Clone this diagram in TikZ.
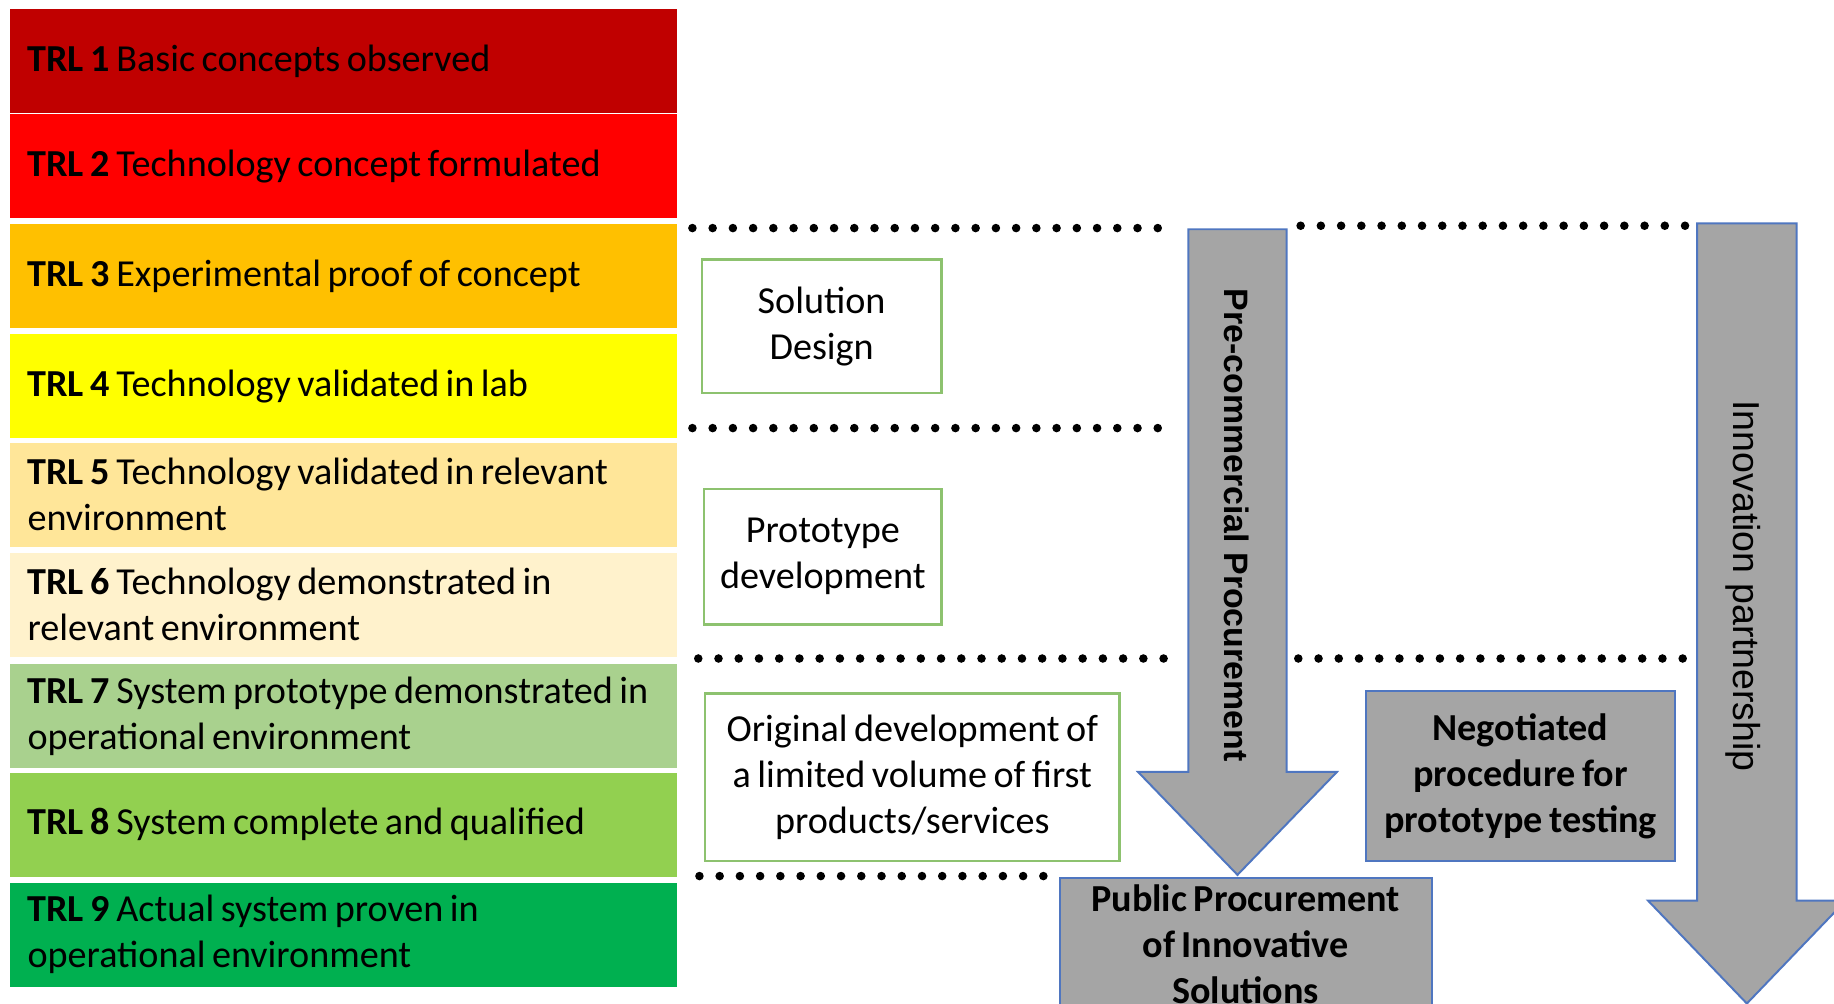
\documentclass[tikz,border=0pt]{standalone}
\usepackage{fontspec}
\setmainfont{Carlito}[WordSpace=0.75]
\newfontfamily\arrowfont{Liberation Sans}

\definecolor{trlone}{HTML}{C00000}
\definecolor{trltwo}{HTML}{FF0000}
\definecolor{trlthree}{HTML}{FFC000}
\definecolor{trlfour}{HTML}{FFFF00}
\definecolor{trlfive}{HTML}{FFE699}
\definecolor{trlsix}{HTML}{FFF2CC}
\definecolor{trlseven}{HTML}{A9D18E}
\definecolor{trleight}{HTML}{92D050}
\definecolor{trlnine}{HTML}{00B050}
\definecolor{phasegreen}{HTML}{8DC26F}
\definecolor{procgrey}{HTML}{A5A5A5}
\definecolor{procblue}{HTML}{4F76C0}

\begin{document}
\begin{tikzpicture}[x=0.0125cm, y=-0.0125cm,
    font=\fontsize{11.6}{14}\selectfont,
    trl/.style={anchor=north west, minimum height=1.1125cm, text width=6.75cm,
                inner ysep=0pt, inner xsep=0.1875cm, align=flush left},
    phase/.style={draw=phasegreen, line width=0.7pt, fill=white, align=center, inner sep=0pt},
    proc/.style={draw=procblue, line width=0.6pt, fill=procgrey, align=center, inner sep=0pt,
                 font=\fontsize{11.6}{14}\selectfont\bfseries},
    route/.style={draw=procblue, line width=0.6pt, fill=procgrey},
    dotrow/.style={line width=2.6pt, line cap=round, dash pattern=on 0pt off 6.15pt}]

    \clip (0,0) rectangle (1568,858);

    % TRL ladder
    \node[trl, fill=trlone]   (trl1) at (8,7)   {\textbf{TRL 1} Basic concepts observed};
    \node[trl, fill=trltwo]   (trl2) at (8,97)  {\textbf{TRL 2} Technology concept formulated};
    \node[trl, fill=trlthree] (trl3) at (8,191) {\textbf{TRL 3} Experimental proof of concept};
    \node[trl, fill=trlfour]  (trl4) at (8,285) {\textbf{TRL 4} Technology validated in lab};
    \node[trl, fill=trlfive]  (trl5) at (8,378) {\textbf{TRL 5} Technology validated in relevant\\environment};
    \node[trl, fill=trlsix]   (trl6) at (8,472) {\textbf{TRL 6} Technology demonstrated in\\relevant environment};
    \node[trl, fill=trlseven] (trl7) at (8,567) {\textbf{TRL 7} System prototype demonstrated in\\operational environment};
    \node[trl, fill=trleight] (trl8) at (8,660) {\textbf{TRL 8} System complete and qualified};
    \node[trl, fill=trlnine]  (trl9) at (8,754) {\textbf{TRL 9} Actual system proven in\\operational environment};

    % Phase separators
    \draw[dotrow] (592,195) -- (998,195);
    \draw[dotrow] (1112,193) -- (1442,193);
    \draw[dotrow] (592,366) -- (998,366);
    \draw[dotrow] (597,563) -- (1001,563);
    \draw[dotrow] (1110,563) -- (1446,563);
    \draw[dotrow] (598,749) -- (894,749);

    % Phases
    \node[phase, minimum width=2.5625cm, minimum height=1.425cm] (design) at (702.5,279) {Solution\\Design};
    \node[phase, minimum width=2.5375cm, minimum height=1.45cm] (proto) at (703.5,476) {Prototype\\development};
    \node[phase, minimum width=4.425cm, minimum height=1.7875cm] (firstprod) at (780,664.5)
        {Original development of\\a limited volume of first\\products/services};

    % Procurement routes
    \draw[route] (1016,196) -- (1100,196) -- (1100,660) -- (1143,660) -- (1058,748)
        -- (973,660) -- (1016,660) -- cycle;
    \node[rotate=-90, font=\arrowfont\bfseries\fontsize{10.3}{12}\selectfont] (pcp) at (1057,449)
        {Pre-commercial Procurement};

    \draw[route] (1451,191) -- (1536,191) -- (1536,770) -- (1578,770) -- (1493.5,858)
        -- (1409,770) -- (1451,770) -- cycle;
    \node[rotate=-90, font=\arrowfont\fontsize{11.4}{13}\selectfont] (innov) at (1490,501)
        {Innovation partnership};

    \node[proc, minimum width=3.3cm, minimum height=1.8125cm] (negot) at (1300,663.5)
        {Negotiated\\procedure for\\prototype testing};
    \node[proc, minimum width=3.975cm, minimum height=1.4cm] (ppi) at (1065,807)
        {Public Procurement\\of Innovative\\Solutions};

\end{tikzpicture}
\end{document}
